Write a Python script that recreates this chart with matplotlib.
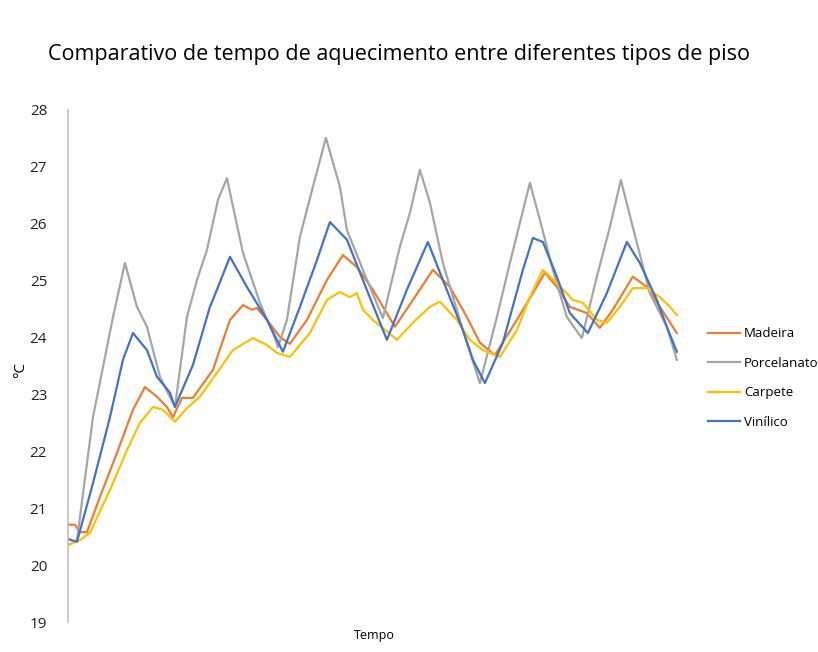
import matplotlib
matplotlib.use("Agg")
import matplotlib.pyplot as plt

plt.rcParams['font.family'] = ['Open Sans', 'DejaVu Sans']

# tempo (unidades arbitrarias) e temperatura (°C) de cada piso
t_madeira = [0, 7, 12, 19, 32, 49, 65, 77, 89, 99, 105, 114, 125, 145, 162, 175, 184, 189, 199, 212,
             222, 239, 259, 275, 289, 305, 327, 345, 365, 382, 399, 412, 427, 449, 465, 477, 489, 502,
             519, 532, 545, 565, 579, 592, 609]
madeira = [20.71, 20.71, 20.58, 20.58, 21.20, 21.97, 22.73, 23.13, 22.96, 22.78, 22.60, 22.94, 22.94,
           23.43, 24.31, 24.57, 24.49, 24.52, 24.31, 24.01, 23.89, 24.31, 25.01, 25.45, 25.24, 24.84,
           24.19, 24.66, 25.19, 24.89, 24.36, 23.91, 23.69, 24.31, 24.78, 25.14, 24.89, 24.54, 24.43,
           24.17, 24.49, 25.07, 24.89, 24.54, 24.08]

t_porcelanato = [0, 9, 25, 35, 45, 57, 69, 79, 92, 107, 119, 129, 139, 150, 159, 175, 192, 205, 210,
                 219, 232, 245, 258, 272, 279, 295, 315, 332, 342, 352, 362, 375, 395, 412, 429, 442,
                 462, 472, 485, 499, 514, 529, 542, 553, 565, 582, 599, 609]
porcelanato = [20.35, 20.44, 22.60, 23.48, 24.36, 25.31, 24.54, 24.19, 23.31, 22.78, 24.36, 25.01,
               25.54, 26.42, 26.80, 25.49, 24.61, 24.08, 23.83, 24.31, 25.77, 26.65, 27.51, 26.65,
               25.89, 25.19, 24.34, 25.60, 26.19, 26.95, 26.37, 25.31, 24.13, 23.20, 24.36, 25.31,
               26.72, 26.07, 25.19, 24.36, 23.99, 25.07, 25.94, 26.77, 25.94, 24.78, 24.19, 23.61]

t_carpete = [0, 12, 22, 42, 59, 72, 85, 95, 107, 119, 132, 149, 165, 185, 199, 209, 222, 242, 259,
             272, 282, 289, 295, 305, 329, 345, 362, 372, 389, 402, 415, 432, 449, 462, 475, 489, 505,
             515, 529, 539, 552, 565, 579, 592, 602, 609]
carpete = [20.35, 20.44, 20.57, 21.32, 22.02, 22.50, 22.78, 22.73, 22.52, 22.76, 22.96, 23.38, 23.78,
           23.99, 23.87, 23.73, 23.66, 24.08, 24.66, 24.80, 24.71, 24.78, 24.49, 24.31, 23.96, 24.26,
           24.54, 24.63, 24.31, 23.96, 23.78, 23.66, 24.13, 24.71, 25.19, 24.96, 24.66, 24.61, 24.31,
           24.26, 24.54, 24.87, 24.87, 24.71, 24.54, 24.40]

t_vinilico = [0, 9, 25, 42, 55, 65, 79, 89, 102, 107, 125, 142, 149, 162, 179, 199, 215, 232, 249,
              262, 279, 295, 319, 339, 360, 375, 395, 405, 417, 435, 455, 465, 475, 489, 502, 520,
              539, 559, 572, 589, 599, 609]
vinilico = [20.46, 20.41, 21.44, 22.60, 23.61, 24.08, 23.78, 23.31, 23.03, 22.78, 23.52, 24.54, 24.84,
            25.42, 24.89, 24.31, 23.75, 24.54, 25.36, 26.03, 25.72, 25.01, 23.96, 24.84, 25.68, 25.01,
            24.13, 23.61, 23.20, 23.91, 25.19, 25.75, 25.68, 25.07, 24.43, 24.08, 24.78, 25.68, 25.31,
            24.66, 24.19, 23.75]

yticks = [19, 20, 21, 22, 23, 24, 25, 26, 27, 28]

fig = plt.figure(figsize=(8.18, 6.52), dpi=100)
ax = fig.add_axes([0.0831, 0.046, 0.748, 0.7853])

ax.plot(t_madeira, madeira, color='#ED7D31', lw=1.6, label='Madeira')
ax.plot(t_porcelanato, porcelanato, color='#A5A5A5', lw=1.6, label='Porcelanato')
ax.plot(t_carpete, carpete, color='#FFC000', lw=1.6, label='Carpete')
ax.plot(t_vinilico, vinilico, color='#4472C4', lw=1.6, label='Vinílico')

ax.set_xlim(0, 612)
ax.set_ylim(19, 28)
ax.set_yticks(yticks)
ax.set_xticks([])
ax.tick_params(axis='y', length=0, pad=15, labelsize=11, labelcolor='#222222')
for s in ['top', 'right', 'bottom']:
    ax.spines[s].set_visible(False)
ax.spines['left'].set_color('#BFBFBF')
ax.spines['left'].set_linewidth(1.2)

ax.set_xlabel('Tempo', fontsize=9, labelpad=5)
fig.text(0.025, 0.433, '°C', rotation=90, fontsize=11, ha='center', va='center')

fig.text(0.059, 0.916, 'Comparativo de tempo de aquecimento entre diferentes tipos de piso',
         fontsize=15.5, va='center', ha='left')

ax.legend(loc='center left', bbox_to_anchor=(0.858, 0.42), bbox_transform=fig.transFigure,
          frameon=False, fontsize=9.5, handlelength=2.4, handletextpad=0.3, labelspacing=1.25,
          borderpad=0)

fig.savefig('out.png', dpi=100)
